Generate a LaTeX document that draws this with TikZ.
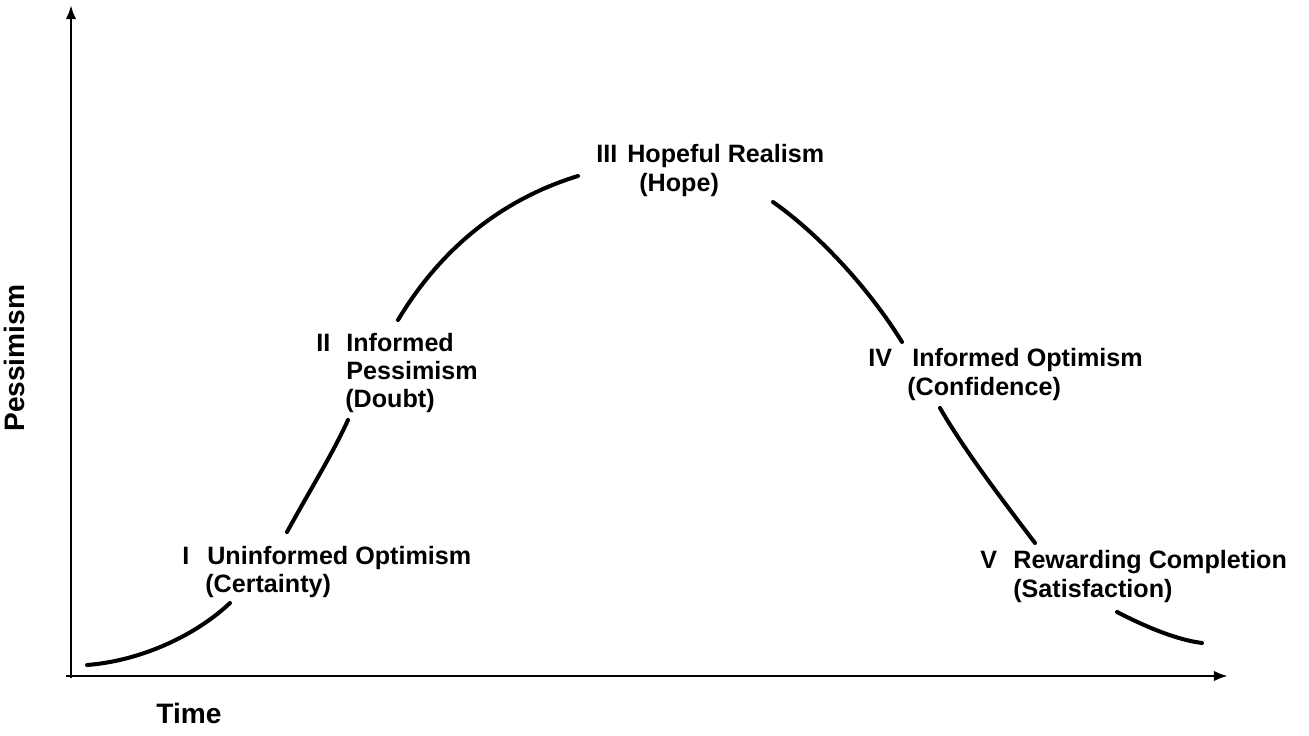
\documentclass[tikz,border=0pt]{standalone}
\usepackage{fontspec}
\setmainfont{Liberation Sans}
\usepackage{tikz}
\usetikzlibrary{arrows.meta}

\begin{document}
\begin{tikzpicture}[x=0.02cm, y=-0.02cm,
        axis/.style={line width=1.6pt, -{Latex[length=8pt,width=6pt]}},
        curve/.style={line width=2.3pt, line cap=round},
        lbl/.style={anchor=base west, inner sep=0pt, font=\fontsize{14.3}{17}\selectfont\bfseries},
        axlbl/.style={lbl, font=\fontsize{16}{19}\selectfont\bfseries}]
    \useasboundingbox (0,0) rectangle (1309,736);

    % axes
    \coordinate (o) at (71,678);
    \coordinate (ytop) at (71,5);
    \coordinate (xend) at (1228,676);
    \draw[axis] (o) -- (ytop);
    \draw[axis] (66,676) -- (xend);
    \node[axlbl, rotate=90] (pess) at (25,432) {Pessimism};
    \node[axlbl] (time) at (156,723) {Time};

    % stages
    \node[lbl] (n1) at (182,564) {I};
    \node[lbl] (s1) at (207,564) {Uninformed Optimism};
    \node[lbl] (s1b) at (205,592) {(Certainty)};
    \node[lbl] (n2) at (316,352) {II};
    \node[lbl] (s2) at (346,352) {Informed};
    \node[lbl] (s2b) at (346,380) {Pessimism};
    \node[lbl] (s2c) at (345,408) {(Doubt)};
    \node[lbl] (n3) at (596,163) {III};
    \node[lbl] (s3) at (627,163) {Hopeful Realism};
    \node[lbl] (s3b) at (639,192) {(Hope)};
    \node[lbl] (n4) at (868,367) {IV};
    \node[lbl] (s4) at (912,367) {Informed Optimism};
    \node[lbl] (s4b) at (907,396) {(Confidence)};
    \node[lbl] (n5) at (980,568) {V};
    \node[lbl] (s5) at (1013,568) {Rewarding Completion};
    \node[lbl] (s5b) at (1013,598) {(Satisfaction)};

    % the curve, broken by the labels
    \draw[curve] (87,665) .. controls (140,661) and (195,636) .. (230,603);
    \draw[curve] (287,532) .. controls (310,490) and (332,455) .. (348,420);
    \draw[curve] (398,320) .. controls (440,250) and (500,200) .. (578,176);
    \draw[curve] (773,202) .. controls (820,235) and (870,290) .. (902,342);
    \draw[curve] (940,408) .. controls (963,448) and (1000,497) .. (1035,543);
    \draw[curve] (1117,612) .. controls (1148,628) and (1178,640) .. (1202,643);
\end{tikzpicture}
\end{document}
